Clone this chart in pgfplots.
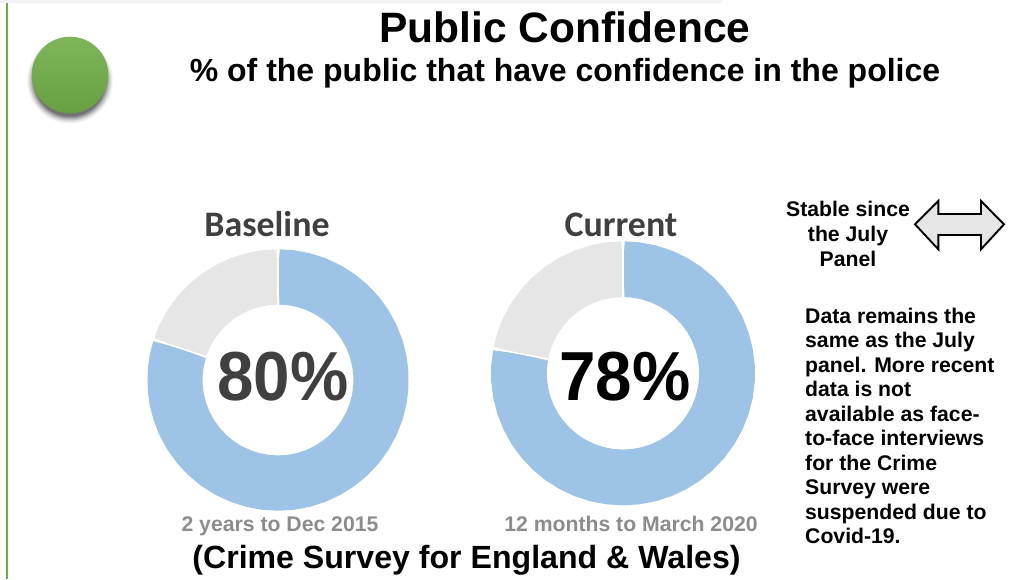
\documentclass[border=0pt]{standalone}
\usepackage{fontspec}
\setmainfont{Liberation Sans}[BoldFont={Liberation Sans Bold}]
\newfontfamily\calibrilike{Carlito}
\usepackage{pgfplots}
\usepackage{pgfplotstable}
\usepgfplotslibrary{polar}
\pgfplotsset{compat=1.18}

\definecolor{ringblue}{HTML}{9DC3E6}
\definecolor{ringgrey}{HTML}{E6E6E6}
\definecolor{rag}{HTML}{70AD47}
\definecolor{darktext}{HTML}{404040}
\definecolor{greytext}{HTML}{8C8C8C}

% Ring positions in percent of a full turn, clockwise from twelve o'clock;
% the second column is the radius of the ring's centre line
\pgfplotstableread{
p r
0 103.1
2 103.1
4 103.1
6 103.1
8 103.1
10 103.1
12 103.1
14 103.1
16 103.1
18 103.1
20 103.1
22 103.1
24 103.1
26 103.1
28 103.1
30 103.1
32 103.1
34 103.1
36 103.1
38 103.1
40 103.1
42 103.1
44 103.1
46 103.1
48 103.1
50 103.1
52 103.1
54 103.1
56 103.1
58 103.1
60 103.1
62 103.1
64 103.1
66 103.1
68 103.1
70 103.1
72 103.1
74 103.1
76 103.1
78 103.1
80 103.1
}\baselineshare
\pgfplotstableread{
p r
80 103.1
82 103.1
84 103.1
86 103.1
88 103.1
90 103.1
92 103.1
94 103.1
96 103.1
98 103.1
100 103.1
}\baselinerest
\pgfplotstableread{
p r
0 104.15
2 104.15
4 104.15
6 104.15
8 104.15
10 104.15
12 104.15
14 104.15
16 104.15
18 104.15
20 104.15
22 104.15
24 104.15
26 104.15
28 104.15
30 104.15
32 104.15
34 104.15
36 104.15
38 104.15
40 104.15
42 104.15
44 104.15
46 104.15
48 104.15
50 104.15
52 104.15
54 104.15
56 104.15
58 104.15
60 104.15
62 104.15
64 104.15
66 104.15
68 104.15
70 104.15
72 104.15
74 104.15
76 104.15
78 104.15
}\currentshare
\pgfplotstableread{
p r
78 104.15
80 104.15
82 104.15
84 104.15
86 104.15
88 104.15
90 104.15
92 104.15
94 104.15
96 104.15
98 104.15
100 104.15
}\currentrest

\pgfplotsset{
  ring/.style={
    scale only axis, width=2*#1 pt, height=2*#1 pt,
    xmin=0, xmax=360, ymin=0, ymax=#1,
    hide axis, clip=false, anchor=center
  }
}

\newcommand{\bfat}[4]{\node[anchor=base,inner sep=0pt,font=\fontsize{#3}{#3}\selectfont\bfseries] at (#1,#2) {#4};}
\newcommand{\bodyline}[2]{\node[anchor=base west,inner sep=0pt,font=\fontsize{21.2}{21.2}\selectfont\bfseries] at (805,#1) {#2};}

\begin{document}
\begin{tikzpicture}[x=1pt,y=-1pt]
\path[use as bounding box] (0,0) rectangle (1010,579);

% Page furniture
\fill[black!5] (0,0) rectangle (722,2.5);
\fill[rag] (6,3) rectangle (8,579);

% Status ball with a soft drop shadow
\foreach \r/\o in {43/0.04,42/0.05,41/0.06,40/0.08,39/0.10,38/0.12,37/0.14,36/0.16}
  \fill[black,opacity=\o] (70,80.5) circle[radius=\r];
\shade[top color=rag!90!white, bottom color=rag!92!black, shading angle=0] (70,75) circle[radius=38.3];

% Baseline ring
\begin{polaraxis}[ring=130.7, at={(278pt,-380pt)}]
  \addplot[ringblue, line width=55.2pt] table[x expr=90-3.6*\thisrow{p}, y=r] {\baselineshare};
  \addplot[ringgrey, line width=55.2pt] table[x expr=90-3.6*\thisrow{p}, y=r] {\baselinerest};
  \addplot[white, line width=1.4pt] coordinates {(90,75) (90,131.5)};
  \addplot[white, line width=1.4pt] coordinates {(-198,75) (-198,131.5)};
\end{polaraxis}

% Current ring
\begin{polaraxis}[ring=132, at={(623pt,-373.3pt)}]
  \addplot[ringblue, line width=55.7pt] table[x expr=90-3.6*\thisrow{p}, y=r] {\currentshare};
  \addplot[ringgrey, line width=55.7pt] table[x expr=90-3.6*\thisrow{p}, y=r] {\currentrest};
  \addplot[white, line width=1.4pt] coordinates {(90,76) (90,132.8)};
  \addplot[white, line width=1.4pt] coordinates {(-190.8,76) (-190.8,132.8)};
\end{polaraxis}

% Headings
\bfat{565}{42}{42.5}{Public Confidence}
\bfat{565}{81}{32}{\% of the public that have confidence in the police}

% Ring captions
\node[anchor=base,inner sep=0pt,text=darktext,font=\fontsize{35.9}{36}\selectfont\calibrilike\bfseries] at (267,236) {Baseline};
\node[anchor=base,inner sep=0pt,text=darktext,font=\fontsize{35.9}{36}\selectfont\calibrilike\bfseries] at (621,236) {Current};
\node[anchor=base,inner sep=0pt,text=darktext,font=\fontsize{65.5}{66}\selectfont\bfseries] at (283,400) {\scalebox{1}[1.06]{80\%}};
\node[anchor=base,inner sep=0pt,font=\fontsize{65.5}{66}\selectfont\bfseries] at (625,400) {\scalebox{1}[1.06]{78\%}};
\node[anchor=base,inner sep=0pt,text=greytext,font=\fontsize{21.2}{22}\selectfont\bfseries] at (280,531.5) {2 years to Dec 2015};
\node[anchor=base,inner sep=0pt,text=greytext,font=\fontsize{21.2}{22}\selectfont\bfseries] at (631,531.5) {12 months to March 2020};
\bfat{466.5}{568}{32.1}{(Crime Survey for England \& Wales)}

% Direction of travel
\bfat{848}{216}{21.2}{Stable since}
\bfat{848}{241}{21.2}{the July}
\bfat{848}{266}{21.2}{Panel}
\draw[black, line width=1.9pt, fill=ringgrey, miter limit=10]
  (915,224.3) -- (938.3,201) -- (938.3,214) -- (981,214) -- (981,201) -- (1004,224.3)
  -- (981,249.3) -- (981,235) -- (938.3,235) -- (938.3,249.3) -- cycle;

% Commentary
\bodyline{323}{Data remains the}
\bodyline{347.5}{same as the July}
\bodyline{372}{panel. More recent}
\bodyline{396.5}{data is not}
\bodyline{421}{available as face-}
\bodyline{445.5}{to-face interviews}
\bodyline{470}{for the Crime}
\bodyline{494.5}{Survey were}
\bodyline{519}{suspended due to}
\bodyline{543.5}{Covid-19.}
\end{tikzpicture}
\end{document}
